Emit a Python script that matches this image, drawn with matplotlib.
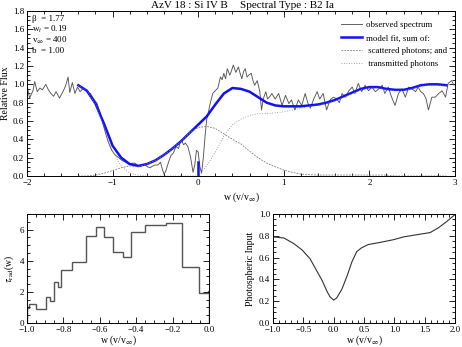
import matplotlib
matplotlib.use('Agg')
import matplotlib.pyplot as plt
import numpy as np
from matplotlib.ticker import MultipleLocator, AutoMinorLocator

plt.rcParams['font.family'] = ['Liberation Serif', 'DejaVu Serif']
plt.rcParams['mathtext.fontset'] = 'stix'

# observed spectrum (w, relative flux)
obs_w = [-2.00, -1.97, -1.93, -1.91, -1.88, -1.85, -1.82, -1.78, -1.75, -1.72,
         -1.69, -1.66, -1.62, -1.58, -1.55, -1.52, -1.50, -1.47, -1.44, -1.41,
         -1.38, -1.34, -1.30, -1.26, -1.22, -1.18, -1.14, -1.11, -1.08, -1.05,
         -1.01, -0.97, -0.93, -0.89, -0.85, -0.81, -0.77, -0.74, -0.71, -0.68,
         -0.65, -0.62, -0.59, -0.56, -0.53, -0.50, -0.47, -0.44, -0.42, -0.40,
         -0.38, -0.35, -0.32, -0.29, -0.26, -0.23, -0.21, -0.19, -0.17, -0.15,
         -0.12, -0.09, -0.06, -0.04, -0.02, 0.00, 0.02, 0.04, 0.06, 0.08,
         0.10, 0.12, 0.14, 0.17, 0.20, 0.23, 0.26, 0.28, 0.30, 0.32,
         0.34, 0.37, 0.39, 0.41, 0.44, 0.47, 0.49, 0.51, 0.53, 0.55,
         0.57, 0.59, 0.62, 0.64, 0.66, 0.69, 0.72, 0.74, 0.76, 0.79,
         0.81, 0.84, 0.86, 0.90, 0.94, 0.98, 1.02, 1.06, 1.09, 1.13,
         1.17, 1.21, 1.25, 1.28, 1.31, 1.35, 1.39, 1.42, 1.46, 1.50,
         1.54, 1.58, 1.62, 1.65, 1.68, 1.72, 1.76, 1.80, 1.83, 1.87,
         1.91, 1.95, 1.99, 2.03, 2.07, 2.11, 2.15, 2.18, 2.22, 2.26,
         2.30, 2.34, 2.38, 2.42, 2.46, 2.50, 2.54, 2.57, 2.60, 2.63,
         2.66, 2.69, 2.73, 2.77, 2.81, 2.85, 2.89, 2.92, 2.96, 2.99]
obs_f = [0.99, 0.85, 0.93, 1.03, 0.92, 0.96, 0.94, 1.00, 0.94, 0.90,
         0.87, 0.92, 0.85, 0.92, 0.98, 1.08, 0.91, 1.02, 0.90, 0.97,
         0.92, 0.96, 0.92, 0.90, 0.84, 0.79, 0.67, 0.56, 0.46, 0.37,
         0.28, 0.23, 0.20, 0.17, 0.15, 0.13, 0.14, 0.14, 0.12, 0.10,
         0.12, 0.12, 0.10, 0.09, 0.11, 0.12, 0.12, 0.15, 0.08, 0.02,
         0.05, 0.14, 0.22, 0.25, 0.32, 0.30, 0.37, 0.38, 0.34, 0.36,
         0.32, 0.21, 0.04, 0.12, 0.28, 0.26, 0.10, 0.03, 0.20, 0.43,
         0.62, 0.70, 0.79, 0.90, 0.93, 0.96, 1.08, 1.05, 1.12, 1.06,
         1.17, 1.10, 1.15, 1.21, 1.13, 1.19, 1.12, 1.06, 1.14, 1.17,
         1.08, 1.10, 1.12, 1.04, 0.99, 1.04, 0.92, 0.72, 0.84, 0.92,
         0.84, 0.87, 0.90, 0.84, 0.90, 0.77, 0.88, 0.79, 0.83, 0.72,
         0.83, 0.77, 0.90, 0.80, 0.74, 0.84, 0.92, 0.84, 0.90, 0.72,
         0.83, 0.86, 0.84, 0.80, 0.90, 0.86, 0.93, 0.97, 0.90, 1.01,
         0.92, 0.99, 0.93, 0.97, 0.92, 0.95, 0.99, 0.90, 0.97, 0.86,
         0.77, 0.90, 0.95, 0.86, 0.97, 0.95, 0.92, 0.97, 0.92, 0.90,
         0.85, 0.72, 0.86, 0.86, 0.90, 0.93, 0.86, 1.01, 1.04, 0.99]

# model fit and its two components
model_w = [-1.4, -1.3, -1.2, -1.1, -1.0, -0.9, -0.8, -0.7, -0.6, -0.5,
           -0.4, -0.3, -0.2, -0.1, 0.0, 0.1, 0.2, 0.3, 0.4, 0.5,
           0.6, 0.7, 0.8, 0.9, 1.0, 1.1, 1.2, 1.3, 1.4, 1.5,
           1.6, 1.7, 1.8, 1.9, 2.0, 2.1, 2.2, 2.3, 2.4, 2.5,
           2.6, 2.7, 2.8, 2.9]
model_f = [0.99, 0.93, 0.79, 0.57, 0.33, 0.20, 0.13, 0.11, 0.13, 0.17,
           0.23, 0.30, 0.38, 0.47, 0.56, 0.65, 0.78, 0.90, 0.96, 0.95,
           0.92, 0.86, 0.80, 0.77, 0.76, 0.76, 0.76, 0.77, 0.78, 0.80,
           0.83, 0.87, 0.91, 0.95, 0.97, 0.97, 0.95, 0.94, 0.94, 0.96,
           0.99, 1.00, 1.00, 0.99]
scat_f = [0.00, 0.00, 0.01, 0.03, 0.06, 0.09, 0.11, 0.10, 0.13, 0.17,
          0.23, 0.30, 0.38, 0.47, 0.53, 0.54, 0.52, 0.46, 0.40, 0.35,
          0.27, 0.20, 0.14, 0.10, 0.065, 0.04, 0.02, 0.015, 0.01, 0.01,
          0.01, 0.01, 0.01, 0.01, 0.01, 0.01, 0.01, 0.0, 0.0, 0.0,
          0.0, 0.0, 0.0, 0.0]
trans_f = [0.99, 0.93, 0.78, 0.54, 0.27, 0.11, 0.03, 0.01, 0.0, 0.0,
           0.0, 0.0, 0.0, 0.0, 0.0, 0.11, 0.26, 0.44, 0.56, 0.62,
           0.66, 0.68, 0.68, 0.69, 0.70, 0.72, 0.74, 0.76, 0.77, 0.79,
           0.82, 0.86, 0.90, 0.94, 0.96, 0.96, 0.94, 0.93, 0.93, 0.95,
           0.98, 0.99, 0.99, 0.98]
core_w = [0.0, 0.0]
core_f = [0.0, 0.15]

# radial optical depth bins
tau_edges = [-1.0, -0.99, -0.95, -0.895, -0.872, -0.85, -0.832, -0.814, -0.75,
             -0.675, -0.622, -0.575, -0.526, -0.474, -0.429, -0.349, -0.237,
             -0.146, -0.055, -0.005, 0.0]
tau_vals = [0.96, 1.22, 0.90, 1.67, 1.43, 2.65, 2.31, 3.43, 3.90, 5.61,
            6.17, 5.52, 4.54, 4.22, 5.82, 6.27, 6.42, 3.60, 1.93, 2.03]

# photospheric input
phot_w = [-1.0, -0.82, -0.66, -0.52, -0.39, -0.28, -0.19, -0.11, -0.06, 0.0,
          0.05, 0.135, 0.22, 0.30, 0.38, 0.46, 0.57, 0.77, 0.99, 1.15,
          1.37, 1.59, 1.73, 1.86, 2.0]
phot_f = [0.79, 0.78, 0.73, 0.67, 0.59, 0.48, 0.39, 0.29, 0.24, 0.21,
          0.23, 0.31, 0.43, 0.56, 0.655, 0.69, 0.72, 0.74, 0.765, 0.79,
          0.81, 0.83, 0.875, 0.93, 0.995]

params = ['β  = 1.77', r'w$_t$ = 0.19', r'v$_\infty$ = 400', 'b  = 1.00']
xlab = r'w (v/v$_\infty$)'

fig = plt.figure(figsize=(4.62, 3.47), dpi=100)
ax = fig.add_axes([0.0584, 0.4928, 0.9264, 0.4755])
ax2 = fig.add_axes([0.0584, 0.0692, 0.394, 0.314])
ax3 = fig.add_axes([0.5909, 0.0692, 0.394, 0.314])


def style(a):
    a.tick_params(which='both', direction='in', top=True, right=True,
                  labelsize=6.5, width=0.6, pad=2)
    a.tick_params(which='major', length=4)
    a.tick_params(which='minor', length=2)
    for s in a.spines.values():
        s.set_linewidth(0.7)


# top panel
ax.plot(obs_w, obs_f, color='#555555', lw=0.65, label='observed spectrum')
ax.plot(model_w, model_f, color='#1010ff', lw=1.8, label='model fit, sum of:')
ax.plot(model_w, scat_f, color='#777777', lw=0.6, ls=(0, (2, 1.5)),
        label=' scattered photons; and')
ax.plot(model_w, trans_f, color='#888888', lw=0.6, ls=(0, (1, 2)),
        label=' transmitted photons')
ax.plot(core_w, core_f, color='#1010ff', lw=1.8)
ax.set_xlim(-2, 3)
ax.set_ylim(0, 1.8)
ax.xaxis.set_major_locator(MultipleLocator(1))
ax.xaxis.set_minor_locator(AutoMinorLocator(5))
ax.yaxis.set_major_locator(MultipleLocator(0.2))
ax.yaxis.set_minor_locator(AutoMinorLocator(4))
style(ax)
ax.set_ylabel('Relative Flux', fontsize=7, labelpad=2)
ax.set_xlabel(xlab, fontsize=7, labelpad=3)
ax.text(0.29, 1.008, 'AzV 18 : Si IV B', transform=ax.transAxes,
        fontsize=8, ha='left', va='bottom')
ax.text(0.498, 1.008, 'Spectral Type : B2 Ia', transform=ax.transAxes,
        fontsize=8, ha='left', va='bottom')
ax.text(0.012, 0.975, '\n'.join(params), transform=ax.transAxes,
        fontsize=6.5, ha='left', va='top', linespacing=1.05)
ax.legend(loc='upper right', bbox_to_anchor=(1.0, 0.985), frameon=False,
          fontsize=6.3, handlelength=2.3, handletextpad=0.5, labelspacing=0.55)

# bottom left: tau
ax2.stairs(tau_vals, tau_edges, color='#555555', lw=1.0)
ax2.set_xlim(-1.0, 0.0)
ax2.set_ylim(0, 7)
ax2.xaxis.set_major_locator(MultipleLocator(0.2))
ax2.xaxis.set_minor_locator(AutoMinorLocator(4))
ax2.yaxis.set_major_locator(MultipleLocator(2))
ax2.yaxis.set_minor_locator(AutoMinorLocator(4))
style(ax2)
ax2.set_ylabel(r'$\tau_{\rm rad}$(w)', fontsize=7, labelpad=3)
ax2.set_xlabel(xlab, fontsize=7, labelpad=0)

# bottom right: photospheric input
ax3.plot(phot_w, phot_f, color='#333333', lw=0.8)
ax3.set_xlim(-1.0, 2.0)
ax3.set_ylim(0, 1.0)
ax3.xaxis.set_major_locator(MultipleLocator(0.5))
ax3.xaxis.set_minor_locator(AutoMinorLocator(5))
ax3.yaxis.set_major_locator(MultipleLocator(0.2))
ax3.yaxis.set_minor_locator(AutoMinorLocator(4))
style(ax3)
ax3.set_ylabel('Photospheric Input', fontsize=7, labelpad=3)
ax3.set_xlabel(xlab, fontsize=7, labelpad=0)

fig.savefig('out.png', dpi=100)
